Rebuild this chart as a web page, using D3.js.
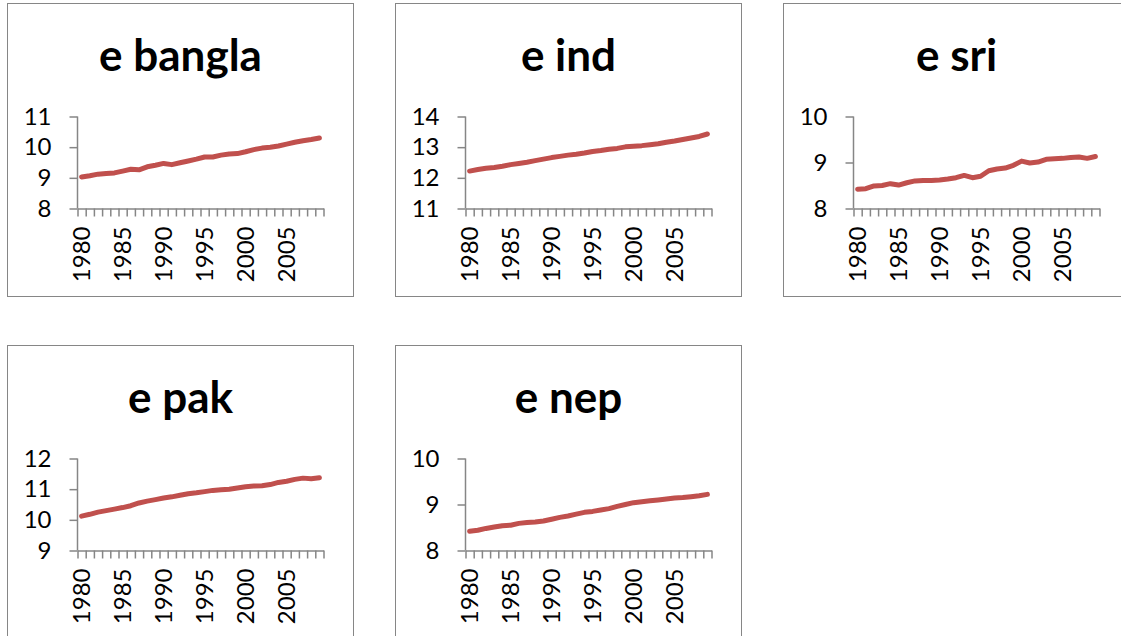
<!DOCTYPE html>
<html>
<head>
<meta charset="utf-8">
<script src="https://cdn.jsdelivr.net/npm/d3@7"></script>
<style>
    body { margin: 0; background: #fff; }
    svg { display: block; }
</style>
</head>
<body>
<svg id="chart" width="1121" height="636"></svg>
<script>
const years = d3.range(1980, 2010);
const labelYears = [1980, 1985, 1990, 1995, 2000, 2005];

const eBangla = [9.03, 9.07, 9.12, 9.14, 9.16, 9.22, 9.28, 9.26, 9.36, 9.41,
    9.47, 9.43, 9.49, 9.55, 9.61, 9.68, 9.68, 9.74, 9.78, 9.79,
    9.85, 9.92, 9.97, 10.0, 10.04, 10.1, 10.16, 10.21, 10.25, 10.3];
const eInd = [12.22, 12.27, 12.31, 12.34, 12.38, 12.43, 12.47, 12.51, 12.56, 12.61,
    12.66, 12.70, 12.74, 12.77, 12.81, 12.86, 12.89, 12.93, 12.96, 13.01,
    13.03, 13.05, 13.08, 13.11, 13.16, 13.20, 13.25, 13.30, 13.35, 13.43];
const eSri = [8.42, 8.43, 8.49, 8.50, 8.54, 8.51, 8.56, 8.60, 8.61, 8.61,
    8.62, 8.64, 8.67, 8.72, 8.67, 8.70, 8.82, 8.86, 8.88, 8.94,
    9.03, 8.99, 9.01, 9.07, 9.08, 9.09, 9.11, 9.12, 9.09, 9.13];
const ePak = [10.12, 10.18, 10.25, 10.30, 10.35, 10.40, 10.46, 10.55, 10.61, 10.66,
    10.71, 10.75, 10.80, 10.85, 10.88, 10.92, 10.96, 10.98, 11.0, 11.04,
    11.08, 11.10, 11.11, 11.15, 11.22, 11.26, 11.32, 11.36, 11.34, 11.37];
const eNep = [8.42, 8.44, 8.48, 8.51, 8.54, 8.55, 8.59, 8.61, 8.62, 8.64,
    8.68, 8.72, 8.75, 8.79, 8.83, 8.85, 8.88, 8.91, 8.96, 9.0,
    9.04, 9.06, 9.08, 9.10, 9.12, 9.14, 9.15, 9.17, 9.19, 9.22];

const titles = ['e bangla', 'e ind', 'e sri', 'e pak', 'e nep'];
const series = [eBangla, eInd, eSri, ePak, eNep];
const yDomains = [[8, 11], [11, 14], [8, 10], [9, 12], [8, 10]];

const panelW = 346, panelH = 293;
const origins = [[7, 3], [395, 3], [783, 3], [7, 345], [395, 345]];
const plot = {left: 70, right: 316, top: 113, bottom: 205};
const axisColor = '#868686';
const font = 'Lato, "Open Sans", sans-serif';

const svg = d3.select('#chart');

function drawPanel(n) {
    const g = svg.append('g')
        .attr('transform', `translate(${origins[n][0] + 0.5},${origins[n][1] + 0.5})`);

    g.append('rect')
        .attr('width', panelW)
        .attr('height', panelH)
        .attr('fill', '#fff')
        .attr('stroke', axisColor)
        .attr('stroke-width', 1);

    g.append('text')
        .text(titles[n])
        .attr('x', panelW / 2)
        .attr('y', 67)
        .attr('text-anchor', 'middle')
        .style('font-family', font)
        .style('font-weight', 'bold')
        .style('font-size', '44px');

    const x = d3.scaleLinear().domain([0, years.length]).range([plot.left, plot.right]);
    const y = d3.scaleLinear().domain(yDomains[n]).range([plot.bottom, plot.top]);

    const yAxis = g.append('g')
        .attr('transform', `translate(${plot.left},0)`)
        .call(d3.axisLeft(y)
            .tickValues(d3.range(yDomains[n][0], yDomains[n][1] + 1))
            .tickSize(8)
            .tickPadding(18)
            .tickFormat(d3.format('d')));

    const xAxis = g.append('g')
        .attr('transform', `translate(0,${plot.bottom})`)
        .call(d3.axisBottom(x)
            .tickValues(d3.range(0, years.length + 1))
            .tickSize(8)
            .tickSizeOuter(0)
            .tickFormat(''));

    [yAxis, xAxis].forEach(a => {
        a.attr('font-family', null).attr('font-size', null);
        a.select('.domain').attr('stroke', axisColor).attr('stroke-width', 1.5);
        a.selectAll('.tick line').attr('stroke', axisColor).attr('stroke-width', 1.5);
        a.selectAll('text')
            .attr('fill', '#000')
            .style('font-family', font)
            .style('font-size', '24px');
    });
    yAxis.select('.domain').attr('d', `M0,${plot.top}V${plot.bottom}`);
    yAxis.selectAll('.tick line').attr('x2', -8);

    g.append('g')
        .selectAll('text')
        .data(labelYears)
        .enter()
        .append('text')
        .text(d => d)
        .attr('transform', d => `translate(${x(years.indexOf(d) + 0.5)},223) rotate(-90)`)
        .attr('text-anchor', 'end')
        .attr('dy', '0.36em')
        .style('font-family', font)
        .style('font-size', '24px');

    const line = d3.line()
        .x((d, i) => x(i + 0.5))
        .y(d => y(d));

    g.append('path')
        .datum(series[n])
        .attr('d', line)
        .attr('fill', 'none')
        .attr('stroke', '#C0504D')
        .attr('stroke-width', 5)
        .attr('stroke-linecap', 'round')
        .attr('stroke-linejoin', 'round');
}

for (let n = 0; n < series.length; n++) {
    drawPanel(n);
}
</script>
</body>
</html>
